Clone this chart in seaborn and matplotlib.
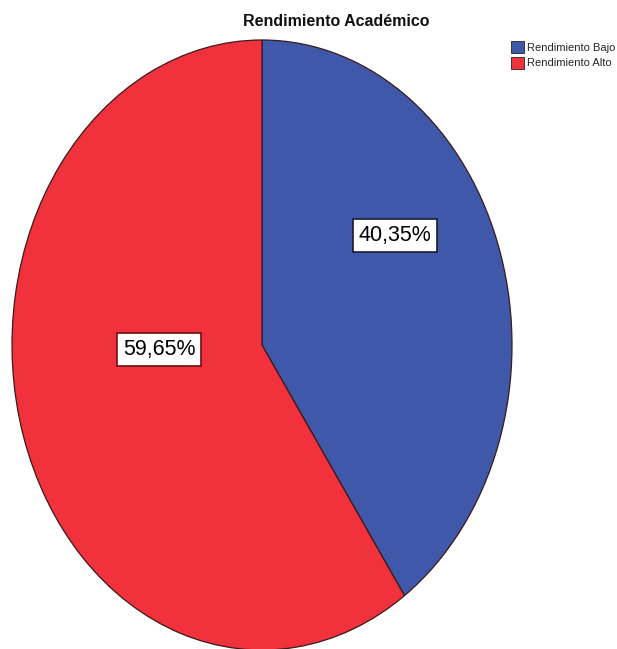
import matplotlib
matplotlib.use("Agg")
import matplotlib.pyplot as plt
import seaborn as sns
from matplotlib.patches import Patch

categories = ["Rendimiento Bajo", "Rendimiento Alto"]
values = [40.35, 59.65]
value_labels = ["40,35%", "59,65%"]
title = "Rendimiento Académico"

sns.set_theme(style="white")
plt.rcParams['font.family'] = ['Liberation Sans', 'DejaVu Sans']

colors = ["#3F58A9", "#F1313B"]
box_edges = ["#1a1a30", "#6a1010"]

fig = plt.figure(figsize=(6.17, 6.49), dpi=100)
ax = fig.add_axes([12/617, -1/649, 500/617, 610/649])
wedges, _ = ax.pie(values, colors=colors, startangle=90, counterclock=False,
                   radius=1.0, wedgeprops=dict(edgecolor="#3a1a1a", linewidth=0.9))
ax.set_aspect("auto")
ax.set_xlim(-1.0, 1.0)
ax.set_ylim(-1.0, 1.0)
ax.axis("off")

label_pos = [(0.532, 0.359), (-0.412, -0.015)]
for (x, y), txt, ec in zip(label_pos, value_labels, box_edges):
    ax.text(x, y, txt, ha="center", va="center", fontsize=15.5, color="black",
            bbox=dict(boxstyle="square,pad=0.26", facecolor="white", edgecolor=ec, linewidth=1.2))

fig.text(336/617, 1 - 22/649, title, ha="center", va="center", fontsize=11.5,
         fontweight="bold", color="#111111")

handles = [Patch(facecolor=c, edgecolor="#222222", linewidth=0.6) for c in colors]
fig.legend(handles, categories, loc="upper left", bbox_to_anchor=(510/617, 1 - 40/649),
           frameon=False, fontsize=8, handlelength=1.15, handleheight=1.25,
           handletextpad=0.3, labelspacing=0.35, borderpad=0.1, borderaxespad=0)

fig.savefig("out.png", dpi=100)
